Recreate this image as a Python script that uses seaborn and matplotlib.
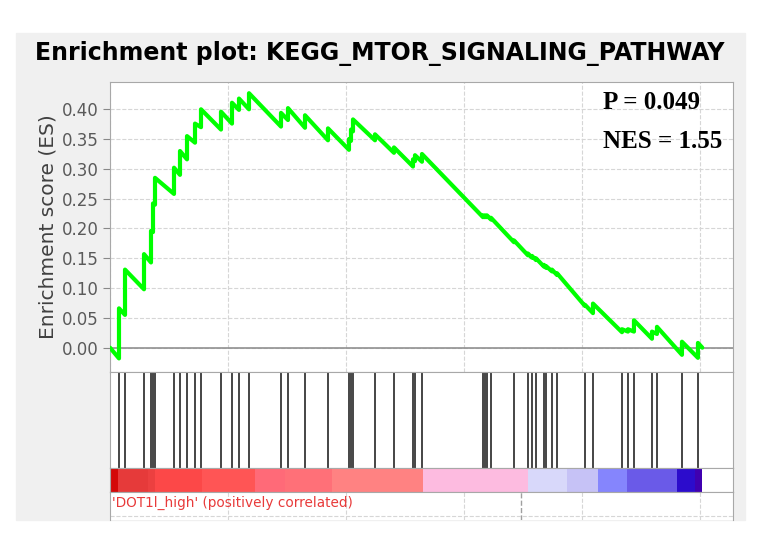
import matplotlib
matplotlib.use('Agg')
import pandas as pd
import matplotlib.pyplot as plt
import seaborn as sns
from matplotlib.patches import Rectangle

# Posiciones de los genes del set en la lista ordenada (rank)
hit_rank = [381, 636, 1441, 1737, 1822, 1907, 2712, 2966, 3263, 3602,
            3856, 4703, 5169, 5466, 5890, 7246, 7542, 8263, 9237, 10127,
            10212, 10297, 11229, 12034, 12839, 12924, 13220, 15805, 15890, 15975,
            16144, 17119, 17712, 17881, 18051, 18390, 18475, 18729, 18941, 20127,
            20466, 21695, 21949, 22203, 22966, 23178, 24237, 24915]

# ES justo antes y justo despues de cada gen del set
es_antes = [-0.018, 0.055, 0.098, 0.143, 0.194, 0.240, 0.258, 0.290, 0.316, 0.344,
            0.370, 0.366, 0.376, 0.399, 0.400, 0.371, 0.382, 0.369, 0.348, 0.332,
            0.347, 0.363, 0.348, 0.327, 0.304, 0.313, 0.312, 0.219, 0.219, 0.219,
            0.215, 0.177, 0.155, 0.151, 0.147, 0.136, 0.134, 0.128, 0.122, 0.070,
            0.058, 0.026, 0.027, 0.027, 0.015, 0.023, -0.012, -0.017]
es_despues = [0.066, 0.131, 0.157, 0.196, 0.242, 0.285, 0.302, 0.330, 0.355, 0.376,
              0.400, 0.396, 0.411, 0.418, 0.427, 0.394, 0.402, 0.390, 0.368, 0.350,
              0.366, 0.383, 0.358, 0.336, 0.316, 0.323, 0.325, 0.222, 0.222, 0.222,
              0.218, 0.180, 0.158, 0.154, 0.150, 0.139, 0.137, 0.131, 0.125, 0.072,
              0.074, 0.031, 0.031, 0.046, 0.027, 0.035, 0.010, 0.008]

n_genes = 25100
zero_cross = 17400

# Barra de colores de la lista ordenada
bar_limites = [0, 339, 1610, 1907, 3898, 6144, 7415, 9407, 13263, 17712,
               19364, 20677, 21907, 24025, 24788, 25100]
bar_colores = ['#d40808', '#e63a3a', '#ec4040', '#fc4848', '#ff5555', '#ff6a78',
               '#ff7078', '#ff8282', '#fdbbe0', '#d8d8fa', '#c6c2f6', '#8585fd',
               '#6a5ae8', '#2c0ccc', '#4000b0']

y_ticks = [0.00, 0.05, 0.10, 0.15, 0.20, 0.25, 0.30, 0.35, 0.40]
x_ticks = [0, 5000, 10000, 15000, 20000, 25000]

# Armo la curva (saltos verticales en cada gen)
xs = [0]
ys = [0.0]
for r, a, d in zip(hit_rank, es_antes, es_despues):
    xs += [r, r]
    ys += [a, d]
xs.append(n_genes)
ys.append(0.0)
df = pd.DataFrame({'rank': xs, 'es': ys})

sns.set_style('white')
plt.rcParams['font.family'] = ['DejaVu Sans']

W, H = 769, 545
fig = plt.figure(figsize=(W / 100, H / 100), dpi=100)
fondo = Rectangle((16 / W, 1 - 520 / H), (745 - 16) / W, (520 - 33) / H,
                  transform=fig.transFigure, color='#f0f0f0', zorder=-5)
fig.patches.append(fondo)

def caja(top, bottom):
    return fig.add_axes([110 / W, 1 - bottom / H, (733 - 110) / W, (bottom - top) / H])

ax1 = caja(82, 372)
ax2 = caja(372, 468)
ax3 = caja(468, 492)
ax4 = caja(492, 520)
x_max = 26400
px = 42.37  # ranks por pixel
borde = '#a8a8a8'

# Panel principal: enrichment score
sns.lineplot(data=df, x='rank', y='es', sort=False, estimator=None,
             color='#00ff00', linewidth=3, ax=ax1, zorder=3)
ax1.set_xlim(0, x_max)
ax1.set_ylim(-0.0408, 0.4458)
ax1.set_yticks(y_ticks)
ax1.set_yticklabels(['%.2f' % t for t in y_ticks])
ax1.set_xticks(x_ticks)
ax1.grid(True, ls='--', color='#d6d6d6', lw=0.8)
ax1.axhline(0, color='#909090', lw=1.2, zorder=2)
ax1.tick_params(axis='x', length=0, labelbottom=False)
ax1.tick_params(axis='y', length=5, color='#888888', labelsize=12, labelcolor='#5a5a5a', pad=3, left=True)
ax1.set_xlabel('')
ax1.set_ylabel('Enrichment score (ES)', fontsize=14.5, color='#404040')
ax1.yaxis.set_label_coords(-0.085, 0.5)
for s in ax1.spines.values():
    s.set_color(borde)

ax1.text((603 - 110) * px, 0.400, 'P = 0.049', family='Liberation Serif', fontweight='bold',
         fontsize=18, color='black', va='baseline')
ax1.text((603 - 110) * px, 0.3355, 'NES = 1.55', family='Liberation Serif', fontweight='bold',
         fontsize=18, color='black', va='baseline')

# Panel de genes del set
sns.rugplot(x=hit_rank, height=1, ax=ax2, color='#262626', linewidth=1.2,
            expand_margins=False)
ax2.set_xlim(0, x_max)
ax2.set_ylim(0, 1)

# Barra de colores
anchos = [b - a for a, b in zip(bar_limites[:-1], bar_limites[1:])]
ax3.bar(bar_limites[:-1], [1] * len(anchos), width=anchos, align='edge',
        color=bar_colores, linewidth=0)
ax3.set_xlim(0, x_max)
ax3.set_ylim(0, 1)

# Parte superior del grafico del ranked list metric (cortado)
ax4.set_xlim(0, x_max)
ax4.set_ylim(0, 1)
for t in x_ticks[1:]:
    ax4.axvline(t, ls='--', color='#d6d6d6', lw=0.8)
ax4.axvline(zero_cross, ls='--', color='#a0a0a0', lw=1.0)
ax4.axhline(0.15, ls='--', color='#d6d6d6', lw=0.8)
ax4.text(0.004, 0.62, "'DOT1l_high' (positively correlated)", transform=ax4.transAxes,
         color='#e83a3a', fontsize=9.8, va='center', ha='left')

for ax in [ax2, ax3, ax4]:
    ax.set_xticks([])
    ax.set_yticks([])
    for s in ax.spines.values():
        s.set_color(borde)
ax4.spines['bottom'].set_visible(False)

fig.text(380 / W, 1 - 54 / H, 'Enrichment plot: KEGG_MTOR_SIGNALING_PATHWAY',
         ha='center', va='center', fontsize=17, fontweight='bold', color='black')

fig.savefig('out.png', dpi=100, facecolor='white')
